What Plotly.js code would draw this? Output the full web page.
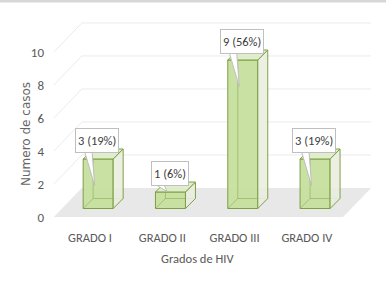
<!DOCTYPE html>
<html><head><meta charset="utf-8">
<script src="https://cdn.plot.ly/plotly-3.0.1.min.js"></script>
<style>html,body{margin:0;padding:0;background:#fff;}#chart{width:386px;height:287px;}</style>
</head><body><div id="chart"></div>
<script>
// ---- data ----
const categories = ['GRADO I', 'GRADO II', 'GRADO III', 'GRADO IV'];
const casos = [3, 1, 9, 3];
const porcentajes = [19, 6, 56, 19];
const yTicks = [0, 2, 4, 6, 8, 10];
const xTitle = 'Grados de HIV';
const yTitle = 'Numero de casos';

// ---- oblique 3D projection (in axis units) ----
const DX = 0.387, DY = 1.76;   // full floor depth
const FX = 0.113, FY = 0.515;  // bar front plane
const BX = 0.138, BY = 0.606;  // bar depth
const W = 0.415;               // bar width

const FONT = 'Carlito, Lato, sans-serif';
const GREEN = '#7f9f45';

const idx = categories.map((c, i) => i);
const traces = [];

// front faces as real bars
traces.push({
  type: 'bar', x: idx.map(i => i + FX), y: casos, base: casos.map(() => FY), width: W,
  marker: {color: 'rgba(196,222,154,0.92)', line: {color: GREEN, width: 1}},
  hoverinfo: 'skip', showlegend: false
});

casos.forEach((v, i) => {
  const x0 = i + FX - W / 2, x1 = i + FX + W / 2, y0 = FY, y1 = FY + v;
  // hidden back edges seen through the bar
  traces.push({type: 'scatter', mode: 'lines',
    x: [x0, x0 + BX, x1 + BX, null, x0 + BX, x0 + BX],
    y: [y0, y0 + BY, y0 + BY, null, y0 + BY, y1 + BY],
    line: {color: 'rgba(127,159,69,0.55)', width: 0.9}, hoverinfo: 'skip', showlegend: false});
  // side face
  traces.push({type: 'scatter', mode: 'lines', fill: 'toself', fillcolor: 'rgba(232,237,222,0.85)',
    x: [x1, x1 + BX, x1 + BX, x1, x1], y: [y0, y0 + BY, y1 + BY, y1, y0],
    line: {color: GREEN, width: 1}, hoverinfo: 'skip', showlegend: false});
  // top face
  traces.push({type: 'scatter', mode: 'lines', fill: 'toself', fillcolor: 'rgba(222,236,200,0.9)',
    x: [x0, x1, x1 + BX, x0 + BX, x0], y: [y1, y1, y1 + BY, y1 + BY, y1],
    line: {color: GREEN, width: 1}, hoverinfo: 'skip', showlegend: false});
});

// callout tails
const LX = FX - 0.013, LY = 0.85;
casos.forEach((v, i) => {
  const lx = i + LX, yb = v + LY;
  const tail = v > 2 ? 1.95 : 0.3;
  traces.push({type: 'scatter', mode: 'lines', fill: 'toself', fillcolor: '#ffffff',
    x: [lx - 0.17, lx - 0.035, lx - 0.07], y: [yb + 0.05, yb - tail, yb + 0.05],
    line: {color: '#bfbfbf', width: 1}, hoverinfo: 'skip', showlegend: false});
});

const annotations = casos.map((v, i) => ({
  x: i + LX, y: v + LY, xref: 'x', yref: 'y', yanchor: 'bottom', xanchor: 'center',
  text: v + ' (' + porcentajes[i] + '%)', showarrow: false,
  bgcolor: '#ffffff', bordercolor: '#bfbfbf', borderwidth: 1, borderpad: 2, height: 19,
  font: {family: FONT, size: 12.5, color: '#404040'}
}));
// axis titles placed as in the original
annotations.push({xref: 'paper', yref: 'paper', x: (197 - 45) / 330, y: (230 - 258) / 215,
  xanchor: 'center', yanchor: 'middle', showarrow: false, text: xTitle,
  font: {family: FONT, size: 12.5, color: '#595959'}});
annotations.push({xref: 'paper', yref: 'paper', x: (26 - 45) / 330, y: (230 - 134) / 215,
  xanchor: 'center', yanchor: 'middle', showarrow: false, text: yTitle, textangle: -90,
  font: {family: '"DejaVu Sans", sans-serif', size: 12, color: '#666666'}});

// floor + walls (axis decoration)
const shapes = [];
shapes.push({type: 'path', xref: 'x', yref: 'y', layer: 'below',
  path: `M ${-0.5},0 L ${3.5},0 L ${3.5 + DX},${DY} L ${-0.5 + DX},${DY} Z`,
  fillcolor: '#e8e8e8', line: {width: 0}});
yTicks.filter(t => t > 0).forEach(t => {
  shapes.push({type: 'line', xref: 'x', yref: 'y', layer: 'below',
    x0: -0.5 + DX, x1: 3.5 + DX, y0: t + DY, y1: t + DY, line: {color: '#ebebeb', width: 1}});
  shapes.push({type: 'line', xref: 'x', yref: 'y', layer: 'below',
    x0: -0.5, x1: -0.5 + DX, y0: t, y1: t + DY, line: {color: '#ebebeb', width: 1}});
});
// top frame strip
shapes.push({type: 'rect', xref: 'paper', yref: 'paper', x0: -0.2, x1: 1.2,
  y0: 1 + 12.5 / 215, y1: 1.2, fillcolor: '#d6d6d6', line: {width: 0}});

const xs = 72.3, ys = 16.5;
const layout = {
  width: 386, height: 287,
  margin: {l: 45, r: 11, t: 15, b: 57},
  paper_bgcolor: '#ffffff', plot_bgcolor: '#ffffff',
  showlegend: false, barmode: 'overlay',
  font: {family: FONT, color: '#595959'},
  xaxis: {range: [(45 - 90) / xs, (375 - 90) / xs], tickvals: idx, ticktext: categories,
    showgrid: false, zeroline: false, showline: false, ticks: '', ticklabelstandoff: -2,
    tickfont: {family: FONT, size: 12.5, color: '#595959'}},
  yaxis: {range: [(217 - 230) / ys, (217 - 15) / ys], tickvals: yTicks,
    showgrid: false, zeroline: false, showline: false, ticks: '',
    tickfont: {family: FONT, size: 13, color: '#595959'}},
  shapes: shapes, annotations: annotations
};

Plotly.newPlot('chart', traces, layout, {staticPlot: true, displayModeBar: false});
</script>
</body></html>
